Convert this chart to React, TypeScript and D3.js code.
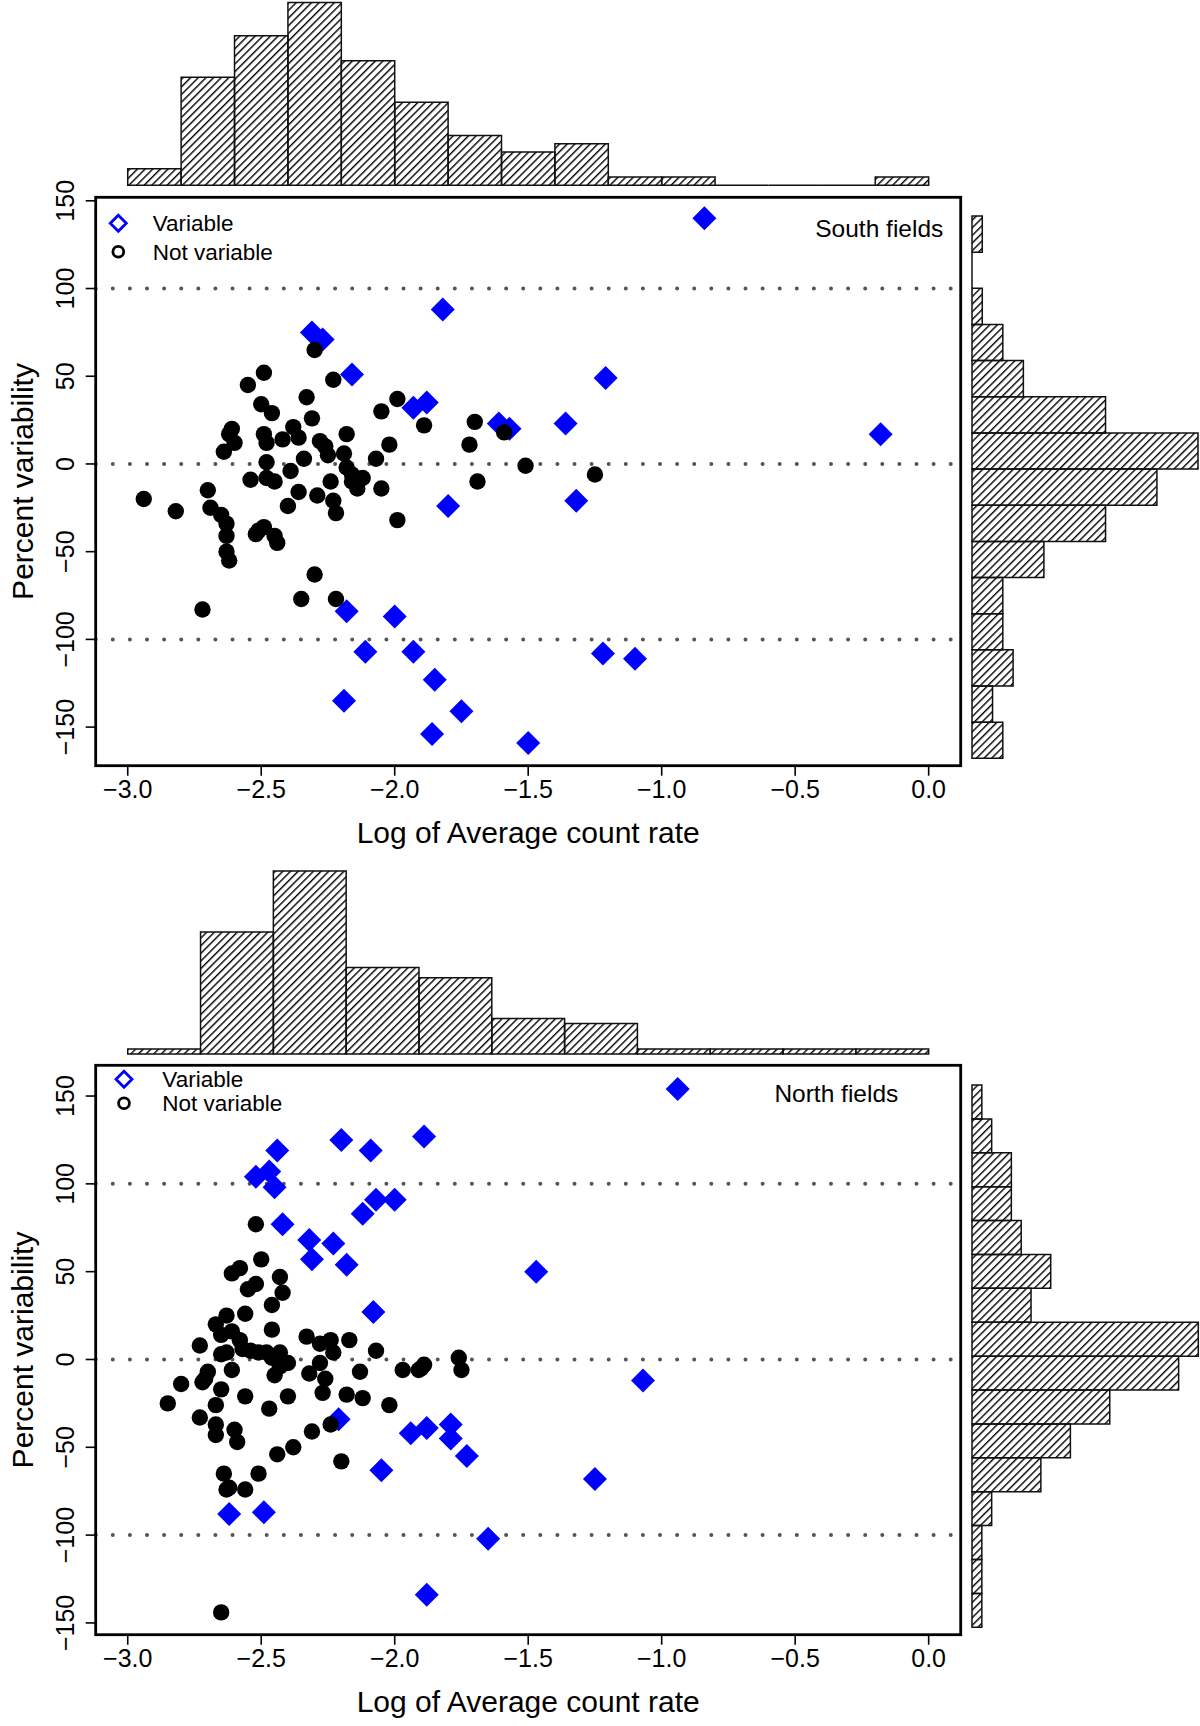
import * as d3 from "d3"

// ---- data ----
const xTicks = [-3, -2.5, -2, -1.5, -1, -0.5, 0]
const yTicks = [-150, -100, -50, 0, 50, 100, 150]
const refLines = [-100, 0, 100]
const legendLabels = ["Variable", "Not variable"]

// South fields: [log count rate, percent variability]
const southVariable: [number, number][] = [
  [-0.84, 140], [-1.82, 88], [-2.31, 75], [-2.27, 71], [-2.16, 51], [-1.21, 49], [-1.93, 32], [-1.88, 35],
  [-1.61, 23], [-1.57, 20], [-1.36, 23], [-0.18, 17], [-1.8, -24], [-1.32, -21], [-2.18, -84], [-2.0, -87],
  [-2.11, -107], [-1.93, -107], [-1.22, -108], [-1.1, -111], [-1.85, -123], [-2.19, -135], [-1.75, -141],
  [-1.86, -154], [-1.5, -159],
]
const southSteady: [number, number][] = [
  [-2.3, 65], [-2.49, 52], [-2.55, 45], [-2.23, 48], [-2.5, 34], [-2.33, 38], [-2.46, 29], [-2.31, 26],
  [-1.99, 37], [-2.05, 30], [-2.61, 20], [-2.62, 17], [-2.38, 21], [-2.36, 15], [-2.49, 17], [-2.18, 17],
  [-2.42, 14], [-2.48, 12], [-2.6, 12], [-2.64, 7], [-2.28, 13], [-2.26, 10], [-2.25, 5], [-2.02, 11],
  [-2.19, 6], [-2.34, 3], [-2.07, 3], [-2.48, 1], [-1.89, 22], [-1.7, 24], [-1.72, 11], [-1.59, 18],
  [-1.51, -1], [-1.25, -6], [-2.18, -2], [-1.69, -10], [-2.39, -4], [-2.16, -6], [-2.12, -8], [-2.16, -10],
  [-2.54, -9], [-2.48, -8], [-2.45, -10], [-2.24, -10], [-2.05, -14], [-2.14, -14], [-2.36, -16], [-2.29, -18],
  [-2.7, -15], [-2.94, -20], [-2.82, -27], [-2.69, -25], [-2.65, -29], [-2.63, -34], [-2.4, -24], [-2.23, -21],
  [-2.22, -28], [-1.99, -32], [-2.49, -36], [-2.51, -38], [-2.52, -40], [-2.45, -41], [-2.44, -45], [-2.63, -41],
  [-2.63, -50], [-2.62, -55], [-2.3, -63], [-2.35, -77], [-2.22, -77], [-2.72, -83],
]
const southTopCounts = [2, 13, 18, 22, 15, 10, 6, 4, 5, 1, 1, 0, 0, 0, 1]
const southRightCounts = [1, 0, 1, 3, 5, 13, 22, 18, 13, 7, 3, 3, 4, 2, 3]

// North fields
const northVariable: [number, number][] = [
  [-0.94, 154], [-2.2, 125], [-1.89, 127], [-2.44, 119], [-2.09, 119], [-2.52, 104], [-2.47, 107], [-2.45, 98],
  [-2.12, 83], [-2.07, 91], [-2.0, 91], [-2.42, 77], [-2.32, 68], [-2.23, 66], [-2.31, 57], [-2.18, 54],
  [-1.47, 50], [-2.08, 27], [-1.07, -12], [-2.21, -34], [-1.94, -42], [-1.88, -39], [-1.79, -37], [-1.79, -45],
  [-1.73, -55], [-2.05, -63], [-1.25, -68], [-2.62, -88], [-2.49, -87], [-1.65, -102], [-1.88, -134],
]
const northSteady: [number, number][] = [
  [-2.52, 77], [-2.5, 57], [-2.58, 52], [-2.61, 49], [-2.43, 47], [-2.52, 43], [-2.55, 40], [-2.42, 38],
  [-2.46, 31], [-2.56, 26], [-2.63, 25], [-2.46, 17], [-2.67, 20], [-2.61, 16], [-2.65, 14], [-2.33, 13],
  [-2.24, 11], [-2.17, 11], [-2.28, 9], [-2.73, 8], [-2.58, 11], [-2.57, 6], [-2.54, 5], [-2.63, 4],
  [-2.51, 4], [-2.48, 4], [-2.43, 4], [-2.23, 4], [-2.07, 5], [-2.65, 3], [-2.46, 1], [-2.4, -2],
  [-2.28, -2], [-2.43, -4], [-2.45, -9], [-2.32, -8], [-2.26, -11], [-2.13, -7], [-1.97, -6], [-1.9, -5],
  [-1.89, -3], [-1.76, 1], [-1.75, -6], [-1.91, -6], [-2.7, -7], [-2.61, -6], [-2.71, -11], [-2.8, -14],
  [-2.72, -13], [-2.65, -17], [-2.56, -21], [-2.4, -21], [-2.27, -19], [-2.18, -20], [-2.12, -22], [-2.02, -26],
  [-2.85, -25], [-2.73, -33], [-2.67, -26], [-2.47, -28], [-2.67, -37], [-2.6, -40], [-2.67, -43], [-2.59, -47],
  [-2.31, -41], [-2.38, -50], [-2.44, -54], [-2.24, -37], [-2.2, -58], [-2.64, -65], [-2.51, -65], [-2.63, -74],
  [-2.62, -73], [-2.56, -74], [-2.65, -144],
]
const northTopCounts = [1, 24, 36, 17, 15, 7, 6, 1, 1, 1, 1]
const northRightCounts = [1, 2, 4, 4, 5, 8, 6, 23, 21, 14, 10, 7, 2, 1, 1, 1]

const FONT = "'Liberation Sans', Arial, Helvetica, sans-serif"
const BLUE = "#0000ff"

type PanelSpec = {
  name: string
  variable: [number, number][]
  steady: [number, number][]
  topCounts: number[]
  rightCounts: number[]
  box: { l: number; r: number; t: number; b: number }
  yDomain: [number, number]
  topHist: { base: number; top: number }
  rightHist: { top: number; bottom: number; left: number; right: number }
  legend: { x: number; y1: number; y2: number; tx: number }
  nameAt: { x: number; y: number }
}

const panels: PanelSpec[] = [
  {
    name: "South fields",
    variable: southVariable,
    steady: southSteady,
    topCounts: southTopCounts,
    rightCounts: southRightCounts,
    box: { l: 95.7, r: 960.7, t: 197.3, b: 765.7 },
    yDomain: [-172, 152],
    topHist: { base: 185.3, top: 2.6 },
    rightHist: { top: 216, bottom: 758.3, left: 972, right: 1198 },
    legend: { x: 118.3, y1: 223.3, y2: 251.7, tx: 152.7 },
    nameAt: { x: 943.3, y: 237 },
  },
  {
    name: "North fields",
    variable: northVariable,
    steady: northSteady,
    topCounts: northTopCounts,
    rightCounts: northRightCounts,
    box: { l: 95.7, r: 960.7, t: 1065.3, b: 1634.7 },
    yDomain: [-156.7, 167.5],
    topHist: { base: 1054, top: 871 },
    rightHist: { top: 1085, bottom: 1627.3, left: 972, right: 1198.3 },
    legend: { x: 124, y1: 1079.3, y2: 1103.3, tx: 162.3 },
    nameAt: { x: 898.3, y: 1102 },
  },
]

const diamond = (cx: number, cy: number, h: number) =>
  `M${cx},${cy - h}L${cx + h},${cy}L${cx},${cy + h}L${cx - h},${cy}Z`

const barPath = (x0: number, y0: number, x1: number, y1: number) =>
  `M${x0},${y0}H${x1}V${y1}H${x0}Z`

function Panel({ p }: { p: PanelSpec }) {
  const x = d3.scaleLinear().domain([-3.12, 0.12]).range([p.box.l, p.box.r])
  const y = d3.scaleLinear().domain(p.yDomain).range([p.box.b, p.box.t])

  const topBand = d3
    .scaleBand<number>()
    .domain(d3.range(p.topCounts.length))
    .range([x(-3), x(0)])
  const topH = d3
    .scaleLinear()
    .domain([0, d3.max(p.topCounts) as number])
    .range([p.topHist.base, p.topHist.top])

  const rightBand = d3
    .scaleBand<number>()
    .domain(d3.range(p.rightCounts.length))
    .range([p.rightHist.top, p.rightHist.bottom])
  const rightW = d3
    .scaleLinear()
    .domain([0, d3.max(p.rightCounts) as number])
    .range([p.rightHist.left, p.rightHist.right])

  const fmtX = d3.format(".1f")
  const fmtY = d3.format("d")
  const midY = (p.box.t + p.box.b) / 2
  const midX = (p.box.l + p.box.r) / 2

  return (
    <g fontFamily={FONT}>
      {/* top histogram */}
      {p.topCounts.map((c, i) => (
        <path
          key={"t" + i}
          d={barPath(topBand(i)!, topH(0), topBand(i)! + topBand.bandwidth(), topH(c))}
          fill="url(#hatch)"
          stroke="#111"
          strokeWidth={1.5}
        />
      ))}
      {/* right histogram */}
      {p.rightCounts.map((c, i) => (
        <path
          key={"r" + i}
          d={barPath(rightW(0), rightBand(i)!, rightW(c), rightBand(i)! + rightBand.bandwidth())}
          fill="url(#hatch)"
          stroke="#111"
          strokeWidth={1.5}
        />
      ))}

      {/* reference lines */}
      {refLines.map((v) => (
        <line
          key={"ref" + v}
          x1={p.box.l}
          x2={p.box.r}
          y1={y(v)}
          y2={y(v)}
          stroke="#555"
          strokeWidth={4}
          strokeLinecap="round"
          strokeDasharray="0 17.1"
        />
      ))}

      {/* points */}
      {p.variable.map(([a, b], i) => (
        <path key={"v" + i} d={diamond(x(a), y(b), 12)} fill={BLUE} />
      ))}
      {p.steady.map(([a, b], i) => (
        <circle key={"s" + i} cx={x(a)} cy={y(b)} r={8.2} fill="#000" />
      ))}

      {/* frame */}
      <rect
        x={p.box.l}
        y={p.box.t}
        width={p.box.r - p.box.l}
        height={p.box.b - p.box.t}
        fill="none"
        stroke="#000"
        strokeWidth={2.8}
      />

      {/* x axis */}
      {xTicks.map((v) => (
        <g key={"xt" + v}>
          <line x1={x(v)} x2={x(v)} y1={p.box.b} y2={p.box.b + 10} stroke="#000" strokeWidth={1.6} />
          <text x={x(v)} y={p.box.b + 32.6} fontSize={25} textAnchor="middle">
            {fmtX(v)}
          </text>
        </g>
      ))}
      <text x={midX} y={p.box.b + 77} fontSize={30} textAnchor="middle">
        Log of Average count rate
      </text>

      {/* y axis */}
      {yTicks.map((v) => (
        <g key={"yt" + v}>
          <line x1={p.box.l} x2={p.box.l - 10} y1={y(v)} y2={y(v)} stroke="#000" strokeWidth={1.6} />
          <text
            transform={`translate(73.5,${y(v)}) rotate(-90)`}
            fontSize={25}
            textAnchor="middle"
          >
            {fmtY(v)}
          </text>
        </g>
      ))}
      <text transform={`translate(32.5,${midY}) rotate(-90)`} fontSize={30} textAnchor="middle">
        Percent variability
      </text>

      {/* legend */}
      <path d={diamond(p.legend.x, p.legend.y1, 8)} fill="none" stroke={BLUE} strokeWidth={2.8} />
      <circle cx={p.legend.x} cy={p.legend.y2} r={5.4} fill="none" stroke="#000" strokeWidth={2.8} />
      <text x={p.legend.tx} y={p.legend.y1 + 8} fontSize={22.5}>
        {legendLabels[0]}
      </text>
      <text x={p.legend.tx} y={p.legend.y2 + 8} fontSize={22.5}>
        {legendLabels[1]}
      </text>

      <text x={p.nameAt.x} y={p.nameAt.y} fontSize={24.5} textAnchor="end">
        {p.name}
      </text>
    </g>
  )
}

export default function App() {
  return (
    <svg
      width={1200}
      height={1726}
      viewBox="0 0 1200 1726"
      style={{ position: "absolute", left: 0, top: 0, background: "#fff" }}
    >
      <defs>
        <pattern
          id="hatch"
          patternUnits="userSpaceOnUse"
          width={5.4}
          height={10}
          patternTransform="rotate(45)"
        >
          <line x1={0.7} y1={0} x2={0.7} y2={10} stroke="#000" strokeWidth={1.4} />
        </pattern>
      </defs>
      <rect width={1200} height={1726} fill="#fff" />
      {panels.map((p) => (
        <Panel key={p.name} p={p} />
      ))}
    </svg>
  )
}
